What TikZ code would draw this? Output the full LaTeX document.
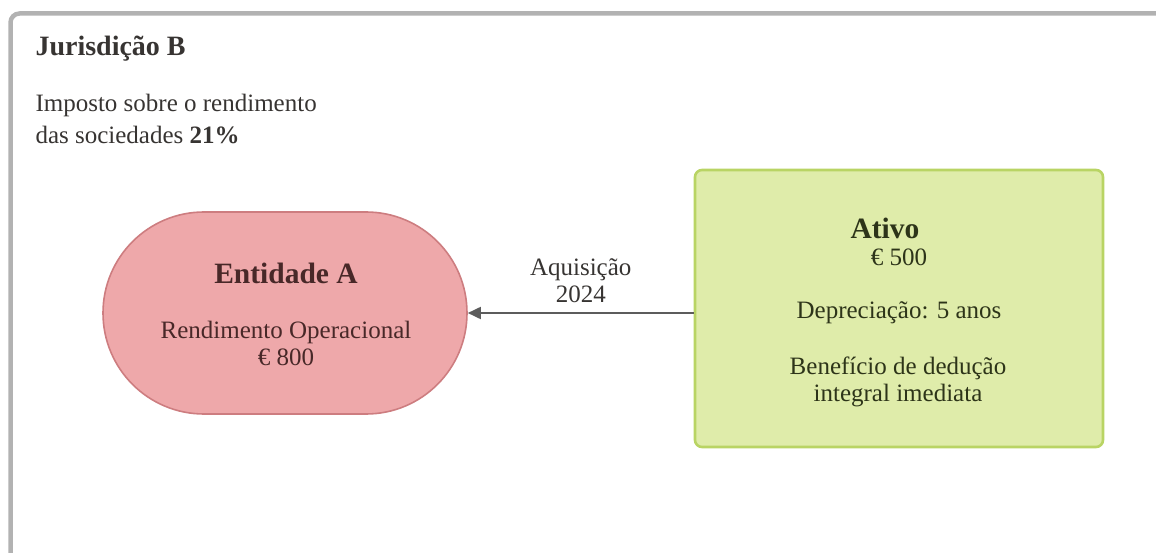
\documentclass[tikz,border=0pt]{standalone}
\usepackage{fontspec}
\setmainfont{Liberation Serif}
\usetikzlibrary{arrows.meta}
\definecolor{framegray}{RGB}{178,178,178}
\definecolor{textgray}{RGB}{55,52,50}
\definecolor{pinkfill}{RGB}{238,168,170}
\definecolor{pinkdraw}{RGB}{205,125,128}
\definecolor{pinktext}{RGB}{72,40,40}
\definecolor{greenfill}{RGB}{223,236,170}
\definecolor{greendraw}{RGB}{185,212,100}
\definecolor{greentext}{RGB}{45,52,25}
\definecolor{arrowgray}{RGB}{92,92,92}
\tikzset{
  body/.style={font=\fontsize{25}{27}\selectfont},
  heading/.style={font=\fontsize{29.5}{32}\selectfont\bfseries},
  entity/.style={draw=pinkdraw, line width=1.6pt, fill=pinkfill, text=pinktext,
    minimum width=364pt, minimum height=202pt, rounded corners=101pt,
    align=center, inner sep=0pt},
  assetbox/.style={draw=greendraw, line width=2.6pt, fill=greenfill, text=greentext,
    minimum width=408pt, minimum height=277pt, rounded corners=7pt,
    align=center, inner sep=0pt},
  flow/.style={draw=arrowgray, line width=1.8pt, -{Triangle[length=13pt,width=12pt]}},
}
\begin{document}
\begin{tikzpicture}[x=1pt,y=-1pt]
  \useasboundingbox (0,0) rectangle (1156,553);
  \clip (0,0) rectangle (1156,553);
  % outer panel border, open to the right and below
  \draw[framegray, line width=4.5pt, rounded corners=9pt] (1170,13.5) -- (10.5,13.5) -- (10.5,570);

  % panel heading and tax rate
  \node[heading, text=textgray, anchor=west, font=\fontsize{28}{30}\selectfont\bfseries]
        (title) at (32,49) {Jurisdição B};
  \node[body, text=textgray, anchor=north west, align=left,
        font=\fontsize{25}{32}\selectfont] (rate) at (32,91)
        {Imposto sobre o rendimento\\das sociedades \textbf{21\%}};

  % entity and asset
  \node[entity] (entidade) at (285,313) {};
  \node[heading, text=pinktext] (entname) at (286,273) {Entidade A};
  \node[body, text=pinktext, align=center] (entinc) at (286,343)
        {Rendimento Operacional\\€ 800};

  \node[assetbox] (ativo) at (899,308.5) {};
  \node[heading, text=greentext] (atname) at (885,228) {Ativo};
  \node[body, text=greentext] (atval) at (899,257) {€ 500};
  \node[body, text=greentext] (atdep) at (899,313) {Depreciação: 5 anos};
  \node[body, text=greentext, align=center] (atben) at (898,382)
        {Benefício de dedução\\integral imediata};

  % acquisition flow
  \draw[flow] (ativo.west |- entidade.east) -- node[body, text=textgray, align=center, above=6pt] (acq)
        {Aquisição\\2024} (entidade.east);
\end{tikzpicture}
\end{document}
